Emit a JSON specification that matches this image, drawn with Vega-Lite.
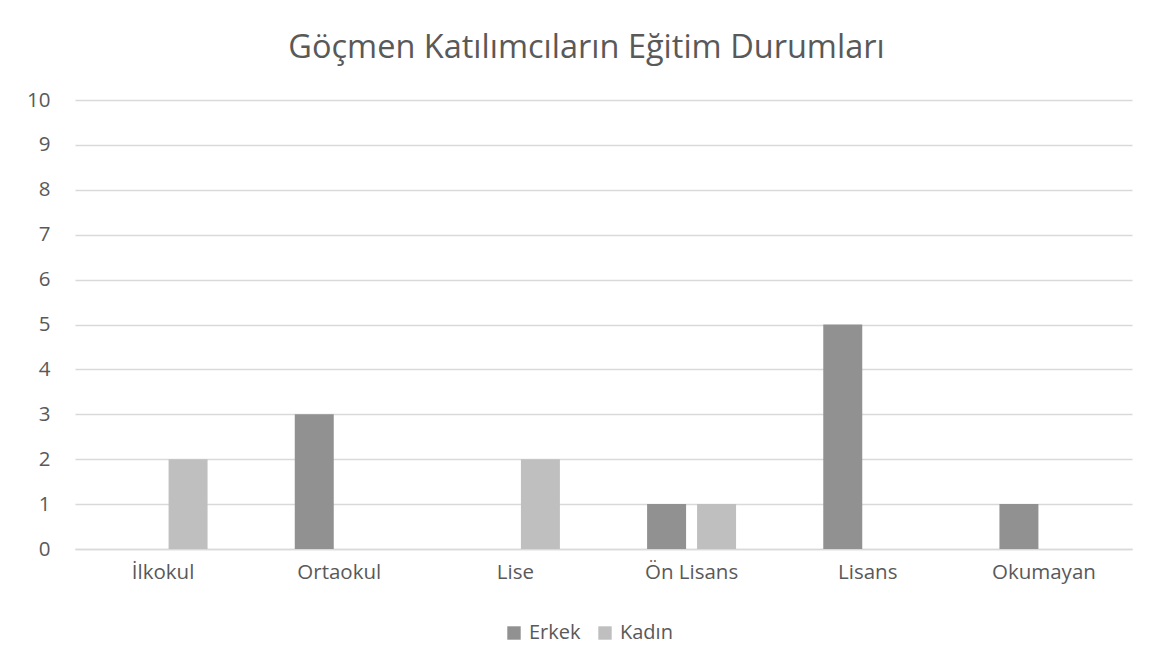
{
  "$schema": "https://vega.github.io/schema/vega-lite/v6.json",
  "autosize": {"type": "none"},
  "width": 1057,
  "height": 449,
  "padding": {"left": 75, "top": 100, "right": 25, "bottom": 122},
  "background": "white",
  "title": {
    "text": "Göçmen Katılımcıların Eğitim Durumları",
    "font": "Open Sans",
    "fontSize": 32.5,
    "fontWeight": "normal",
    "color": "#595959",
    "anchor": "middle",
    "dx": -17,
    "offset": 26
  },
  "data": {
    "values": [
      {"kategori": "İlkokul", "cinsiyet": "Erkek", "sayi": 0},
      {"kategori": "İlkokul", "cinsiyet": "Kadın", "sayi": 2},
      {"kategori": "Ortaokul", "cinsiyet": "Erkek", "sayi": 3},
      {"kategori": "Ortaokul", "cinsiyet": "Kadın", "sayi": 0},
      {"kategori": "Lise", "cinsiyet": "Erkek", "sayi": 0},
      {"kategori": "Lise", "cinsiyet": "Kadın", "sayi": 2},
      {"kategori": "Ön Lisans", "cinsiyet": "Erkek", "sayi": 1},
      {"kategori": "Ön Lisans", "cinsiyet": "Kadın", "sayi": 1},
      {"kategori": "Lisans", "cinsiyet": "Erkek", "sayi": 5},
      {"kategori": "Lisans", "cinsiyet": "Kadın", "sayi": 0},
      {"kategori": "Okumayan", "cinsiyet": "Erkek", "sayi": 1},
      {"kategori": "Okumayan", "cinsiyet": "Kadın", "sayi": 0}
    ]
  },
  "mark": {"type": "bar", "strokeWidth": 1},
  "encoding": {
    "x": {
      "field": "kategori",
      "type": "nominal",
      "sort": ["İlkokul", "Ortaokul", "Lise", "Ön Lisans", "Lisans", "Okumayan"],
      "scale": {"paddingInner": 0.495, "paddingOuter": 0.2475},
      "axis": {
        "title": null,
        "labelAngle": 0,
        "labelFont": "Open Sans",
        "labelFontSize": 20.5,
        "labelColor": "#595959",
        "labelPadding": 13,
        "ticks": false,
        "domainColor": "#d9d9d9",
        "domainWidth": 1.5
      }
    },
    "xOffset": {
      "field": "cinsiyet",
      "type": "nominal",
      "scale": {"paddingInner": 0.22, "paddingOuter": 0}
    },
    "y": {
      "field": "sayi",
      "type": "quantitative",
      "scale": {"domain": [0, 10], "nice": false},
      "axis": {
        "title": null,
        "values": [0, 1, 2, 3, 4, 5, 6, 7, 8, 9, 10],
        "labelFont": "Open Sans",
        "labelFontSize": 20.5,
        "labelColor": "#595959",
        "labelPadding": 25,
        "ticks": false,
        "domain": false,
        "gridColor": "#d9d9d9",
        "gridWidth": 1.5
      }
    },
    "color": {
      "field": "cinsiyet",
      "type": "nominal",
      "scale": {"domain": ["Erkek", "Kadın"], "range": ["#919191", "#bfbfbf"]},
      "legend": {
        "title": null,
        "orient": "none",
        "direction": "horizontal",
        "legendX": 429,
        "legendY": 523,
        "symbolType": "square",
        "symbolSize": 180,
        "symbolStrokeWidth": 0,
        "labelFont": "Open Sans",
        "labelFontSize": 20,
        "labelColor": "#595959",
        "columnPadding": 14,
        "labelOffset": 5
      }
    }
  },
  "config": {"view": {"stroke": null}}
}
